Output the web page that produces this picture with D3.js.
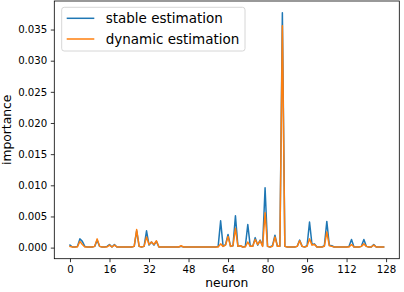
<!DOCTYPE html>
<html>
<head>
<meta charset="utf-8">
<script src="https://cdn.jsdelivr.net/npm/d3@7"></script>
<style>
  html, body { margin: 0; padding: 0; background: #fff; }
  svg { display: block; }
  text { font-family: "DejaVu Sans", sans-serif; fill: #000; }
</style>
</head>
<body>
<svg id="chart" width="404" height="292"></svg>
<script>
// ---- data ----
const seriesNames = ["stable estimation", "dynamic estimation"];
const seriesColors = ["#1f77b4", "#ff7f0e"];
const xTicks = [0, 16, 32, 48, 64, 80, 96, 112, 128];
const yTicks = [0.000, 0.005, 0.010, 0.015, 0.020, 0.025, 0.030, 0.035];
const xLabel = "neuron";
const yLabel = "importance";

const stable = [
  0.0004,0.0001,0.0001,0.0002,0.0014,0.0010,0.0002,0.0001,0.0001,0.0001,0.0002,0.0012,0.0002,0.0001,0.0001,0.0002,
  0.0005,0.0001,0.0005,0.0001,0.0001,0.0001,0.0001,0.0001,0.0001,0.0001,0.0002,0.0027,0.0002,0.0001,0.0002,0.0027,
  0.0004,0.0009,0.0004,0.0010,0.0001,0.0001,0.0001,0.0001,0.0001,0.0001,0.0001,0.0001,0.0001,0.0002,0.0001,0.0001,
  0.0001,0.0001,0.0001,0.0001,0.0001,0.0001,0.0001,0.0001,0.0001,0.0001,0.0001,0.0001,0.0002,0.0043,0.0002,0.0005,
  0.0021,0.0002,0.0003,0.0051,0.0002,0.0003,0.0001,0.0002,0.0037,0.0002,0.0002,0.0016,0.0004,0.0012,0.0003,0.0096,
  0.0002,0.0001,0.0003,0.0020,0.0002,0.0002,0.0377,0.0002,0.0001,0.0001,0.0001,0.0001,0.0002,0.0012,0.0002,0.0001,
  0.0003,0.0041,0.0005,0.0006,0.0001,0.0001,0.0001,0.0003,0.0042,0.0004,0.0003,0.0001,0.0001,0.0001,0.0001,0.0001,
  0.0001,0.0002,0.0013,0.0001,0.0001,0.0001,0.0002,0.0013,0.0002,0.0001,0.0001,0.0005,0.0001,0.0001,0.0001,0.0001
];
const dynamic = [
  0.0002,0.0001,0.0001,0.0001,0.0010,0.0005,0.0001,0.0001,0.0001,0.0001,0.0002,0.0014,0.0002,0.0001,0.0001,0.0001,
  0.0004,0.0001,0.0004,0.0001,0.0001,0.0001,0.0001,0.0001,0.0001,0.0001,0.0002,0.0029,0.0002,0.0001,0.0002,0.0017,
  0.0005,0.0009,0.0005,0.0011,0.0001,0.0001,0.0001,0.0001,0.0001,0.0001,0.0001,0.0001,0.0001,0.0003,0.0001,0.0001,
  0.0001,0.0001,0.0001,0.0001,0.0001,0.0001,0.0001,0.0001,0.0001,0.0001,0.0001,0.0001,0.0001,0.0006,0.0002,0.0004,
  0.0018,0.0002,0.0003,0.0031,0.0002,0.0003,0.0001,0.0001,0.0009,0.0002,0.0002,0.0013,0.0005,0.0011,0.0002,0.0056,
  0.0002,0.0001,0.0002,0.0017,0.0002,0.0002,0.0356,0.0002,0.0001,0.0001,0.0001,0.0001,0.0002,0.0011,0.0002,0.0001,
  0.0002,0.0014,0.0004,0.0005,0.0001,0.0001,0.0001,0.0002,0.0025,0.0003,0.0002,0.0001,0.0001,0.0001,0.0001,0.0001,
  0.0001,0.0001,0.0005,0.0001,0.0001,0.0001,0.0002,0.0006,0.0002,0.0001,0.0001,0.0004,0.0001,0.0001,0.0001,0.0001
];
const neurons = d3.range(stable.length);
const series = [stable, dynamic];

// ---- layout ----
const plot = { left: 54.3, right: 399.3, top: 1, bottom: 258.7 };
const svg = d3.select("#chart");

// matplotlib-like 5% margins
const xMin = d3.min(neurons), xMax = d3.max(neurons);
const xPad = (xMax - xMin) * 0.05;
const allY = stable.concat(dynamic);
const yMin = d3.min(allY), yMax = d3.max(allY);
const yPad = (yMax - yMin) * 0.05;

const x = d3.scaleLinear().domain([xMin - xPad, xMax + xPad]).range([plot.left, plot.right]);
const y = d3.scaleLinear().domain([yMin - yPad, yMax + yPad]).range([plot.bottom, plot.top]);

// lines
const line = d3.line().x((d, i) => x(neurons[i])).y(d => y(d));
series.forEach((s, k) => {
  svg.append("path")
    .datum(s)
    .attr("d", line)
    .attr("fill", "none")
    .attr("stroke", seriesColors[k])
    .attr("stroke-width", 1.5)
    .attr("stroke-linejoin", "round")
    .attr("stroke-linecap", "square");
});

// spines
svg.append("rect")
  .attr("x", plot.left).attr("y", plot.top)
  .attr("width", plot.right - plot.left).attr("height", plot.bottom - plot.top)
  .attr("fill", "none").attr("stroke", "#000").attr("stroke-width", 0.8);

// axes
const xAxis = d3.axisBottom(x).tickValues(xTicks).tickFormat(d3.format("d")).tickSize(3.5).tickPadding(3.5);
const yAxis = d3.axisLeft(y).tickValues(yTicks).tickFormat(d3.format(".3f")).tickSize(3.5).tickPadding(3.5);

const gx = svg.append("g").attr("transform", `translate(0,${plot.bottom})`).call(xAxis);
const gy = svg.append("g").attr("transform", `translate(${plot.left},0)`).call(yAxis);
[gx, gy].forEach(g => {
  g.select(".domain").remove();
  g.selectAll(".tick line").attr("stroke", "#000").attr("stroke-width", 0.8);
  g.selectAll(".tick text").attr("fill", "#000")
    .style("font-family", "'DejaVu Sans', sans-serif").style("font-size", "10.2px");
});

// axis labels
svg.append("text")
  .attr("x", (plot.left + plot.right) / 2).attr("y", 286.5)
  .attr("text-anchor", "middle").style("font-size", "12.3px").text(xLabel);
svg.append("text")
  .attr("transform", `translate(11,${(plot.top + plot.bottom) / 2}) rotate(-90)`)
  .attr("text-anchor", "middle").style("font-size", "12.3px").text(yLabel);

// legend
const lg = svg.append("g");
lg.append("rect")
  .attr("x", 61.7).attr("y", 7.3).attr("width", 183.3).attr("height", 43.7)
  .attr("rx", 2.5).attr("fill", "#fff").attr("fill-opacity", 0.8)
  .attr("stroke", "#cccccc").attr("stroke-width", 0.8);
seriesNames.forEach((name, k) => {
  const yy = 18.3 + k * 20.7;
  lg.append("line").attr("x1", 66.7).attr("x2", 94.3).attr("y1", yy).attr("y2", yy)
    .attr("stroke", seriesColors[k]).attr("stroke-width", 1.5);
  lg.append("text").attr("x", 105.7).attr("y", yy + 4.7)
    .style("font-size", "13.5px").text(name);
});
</script>
</body>
</html>
